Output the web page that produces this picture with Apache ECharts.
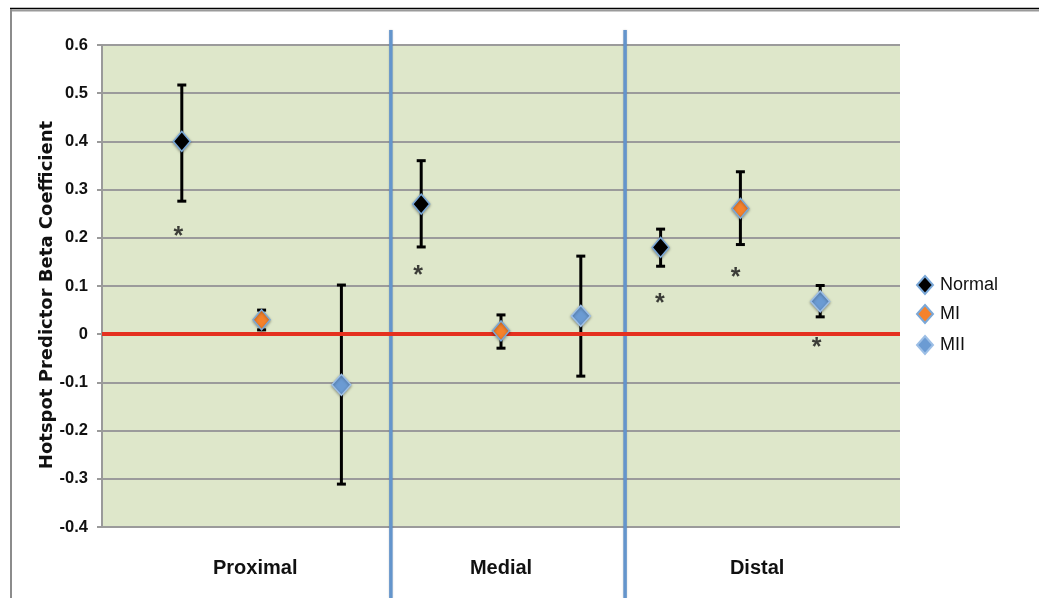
<!DOCTYPE html>
<html>
<head>
<meta charset="utf-8">
<script src="https://cdn.jsdelivr.net/npm/echarts@6/dist/echarts.min.js"></script>
<style>
  html, body { margin: 0; padding: 0; background: #fff; }
  #main { width: 1039px; height: 598px; }
</style>
</head>
<body>
<div id="main"></div>
<script>
// Segments along the artery and the three groups plotted in each
const regions = ['Proximal', 'Medial', 'Distal'];
const groupNames = ['Normal', 'MI', 'MII'];

// Beta coefficients with lower / upper error limits, one entry per region
const normalBeta = [0.40, 0.27, 0.18];
const normalLow  = [0.276, 0.181, 0.141];
const normalHigh = [0.517, 0.36, 0.218];

const miBeta = [0.03, 0.007, 0.261];
const miLow  = [0.009, -0.029, 0.186];
const miHigh = [0.05, 0.04, 0.337];

const miiBeta = [-0.105, 0.038, 0.068];
const miiLow  = [-0.311, -0.087, 0.036];
const miiHigh = [0.102, 0.162, 0.101];

// Significance asterisks (x in slot units, y in beta units)
const sigX = [0.956, 3.96, 6.99, 7.94, 8.956];
const sigY = [0.213, 0.134, 0.075, 0.128, -0.017];

// Y-axis ticks
const yTicks = [-0.4, -0.3, -0.2, -0.1, 0, 0.1, 0.2, 0.3, 0.4, 0.5, 0.6];

// Region dividers and region label anchors, in slot units
const dividers = [3.62, 6.555];
const regionLabelAt = [1.92, 5.0, 8.21];

const betas = [normalBeta, miBeta, miiBeta];
const lows = [normalLow, miLow, miiLow];
const highs = [normalHigh, miHigh, miiHigh];

const markerStyles = [
  { color: '#000000', borderColor: '#7aa8d8' },
  { color: '#f5822c', borderColor: '#7aa8d8' },
  { color: '#6b9bd3', borderColor: '#9dbfe6' }
];
const markerSizes = [[17, 20], [17, 20], [19, 21]];

// slot position of group g in region r
const slot = (r, g) => r * 3 + g + 1;

const pointSeries = groupNames.map((name, g) => ({
  name: name,
  type: 'scatter',
  symbol: 'diamond',
  symbolSize: markerSizes[g],
  zlevel: 1,
  z: 10,
  itemStyle: Object.assign({
    opacity: 1,
    borderWidth: 1.5,
    shadowBlur: 3,
    shadowColor: 'rgba(0,0,0,0.35)',
    shadowOffsetY: 1
  }, markerStyles[g]),
  data: regions.map((_, r) => [slot(r, g), betas[g][r]])
}));

const errorData = [];
regions.forEach((_, r) => {
  groupNames.forEach((_, g) => {
    errorData.push([slot(r, g), lows[g][r], highs[g][r]]);
  });
});

const errorSeries = {
  type: 'custom',
  name: 'errors',
  zlevel: 0,
  z: 3,
  silent: true,
  encode: { x: 0, y: [1, 2] },
  data: errorData,
  renderItem: function (params, api) {
    const x = api.value(0);
    const lo = api.coord([x, api.value(1)]);
    const hi = api.coord([x, api.value(2)]);
    const cw = 4.5;
    const st = { stroke: '#000', lineWidth: 3 };
    return {
      type: 'group',
      children: [
        { type: 'line', shape: { x1: lo[0], y1: lo[1], x2: hi[0], y2: hi[1] }, style: st },
        { type: 'line', shape: { x1: hi[0] - cw, y1: hi[1], x2: hi[0] + cw, y2: hi[1] }, style: st },
        { type: 'line', shape: { x1: lo[0] - cw, y1: lo[1], x2: lo[0] + cw, y2: lo[1] }, style: st }
      ]
    };
  }
};

const sigSeries = {
  type: 'scatter',
  name: 'sig',
  silent: true,
  symbol: 'circle',
  symbolSize: 1,
  z: 4,
  itemStyle: { color: 'rgba(0,0,0,0)' },
  label: {
    show: true,
    position: 'inside',
    formatter: '*',
    fontFamily: 'Liberation Sans, Arial, sans-serif',
    fontSize: 25,
    fontWeight: 'bold',
    color: '#111',
    offset: [0, 6]
  },
  data: sigX.map((x, i) => [x, sigY[i]])
};

// Zero reference line
const zeroLine = {
  type: 'line',
  name: 'zero',
  silent: true,
  data: [],
  markLine: {
    silent: true,
    symbol: 'none',
    label: { show: false },
    lineStyle: { color: '#e5311f', width: 4, type: 'solid' },
    data: [{ yAxis: 0 }]
  }
};

const legendText = { fontFamily: 'Liberation Sans, Arial, sans-serif', fontSize: 18, color: '#111' };
const legendTops = [275, 304, 335];

const chart = echarts.init(document.getElementById('main'));
chart.setOption({
  animation: false,
  backgroundColor: '#ffffff',
  grid: {
    left: 102, top: 45, right: 139, bottom: 71,
    show: true, backgroundColor: '#dee7ca', borderWidth: 0
  },
  legend: groupNames.map((name, g) => ({
    data: [name],
    orient: 'vertical',
    left: 916,
    top: legendTops[g],
    padding: 0,
    itemWidth: 16,
    itemHeight: 18,
    textStyle: Object.assign({ padding: [0, 0, 0, 2] }, legendText),
    selectedMode: false
  })),
  xAxis: {
    type: 'value',
    min: 0,
    max: 10,
    axisLine: { show: false },
    axisTick: { show: false },
    splitLine: { show: false },
    axisLabel: {
      show: true,
      customValues: regionLabelAt,
      margin: 31,
      formatter: v => regions[regionLabelAt.indexOf(v)] || '',
      fontFamily: 'Liberation Sans, Arial, sans-serif',
      fontWeight: 'bold',
      fontSize: 20,
      color: '#111'
    }
  },
  yAxis: {
    type: 'value',
    min: -0.4,
    max: 0.6,
    interval: 0.1,
    name: 'Hotspot Predictor Beta Coefficient',
    nameLocation: 'middle',
    nameGap: 46,
    nameMoveOverlap: false,
    nameTextStyle: {
      fontFamily: 'DejaVu Sans, sans-serif',
      fontWeight: 'bold',
      fontSize: 18,
      color: '#111',
      padding: [0, 18, 0, 0]
    },
    axisLine: { show: true, lineStyle: { color: '#9a9a9a', width: 2 } },
    axisTick: { show: true, length: 5, lineStyle: { color: '#9a9a9a', width: 2 } },
    splitLine: { show: true, lineStyle: { color: '#9b9b9b', width: 2 } },
    axisLabel: {
      margin: 14,
      fontFamily: 'Liberation Sans, Arial, sans-serif',
      fontWeight: 'bold',
      fontSize: 16.5,
      color: '#111',
      formatter: v => {
        const t = yTicks.find(k => Math.abs(k - v) < 1e-9);
        return t === undefined ? '' : String(t);
      }
    }
  },
  series: [zeroLine, errorSeries].concat(pointSeries, [sigSeries])
});

// Frame and region dividers
const xPix = v => chart.convertToPixel({ xAxisIndex: 0 }, v);
const W = 1039, H = 598;
const graphics = [
  { type: 'line', shape: { x1: 10, y1: 8.5, x2: W, y2: 8.5 }, style: { stroke: '#000', lineWidth: 1.5 }, z: 10 },
  { type: 'line', shape: { x1: 10, y1: 10.5, x2: W, y2: 10.5 }, style: { stroke: '#9a9a9a', lineWidth: 2 }, z: 10 },
  { type: 'line', shape: { x1: 11, y1: 9, x2: 11, y2: H }, style: { stroke: '#8c8c8c', lineWidth: 2 }, z: 10 }
];
dividers.forEach(d => {
  const x = xPix(d);
  graphics.push({
    type: 'line',
    shape: { x1: x, y1: 30, x2: x, y2: H },
    style: { stroke: '#6495cc', lineWidth: 3.5, shadowBlur: 2, shadowColor: 'rgba(0,0,0,0.2)' },
    z: 2
  });
});
chart.setOption({ graphic: graphics });
</script>
</body>
</html>
